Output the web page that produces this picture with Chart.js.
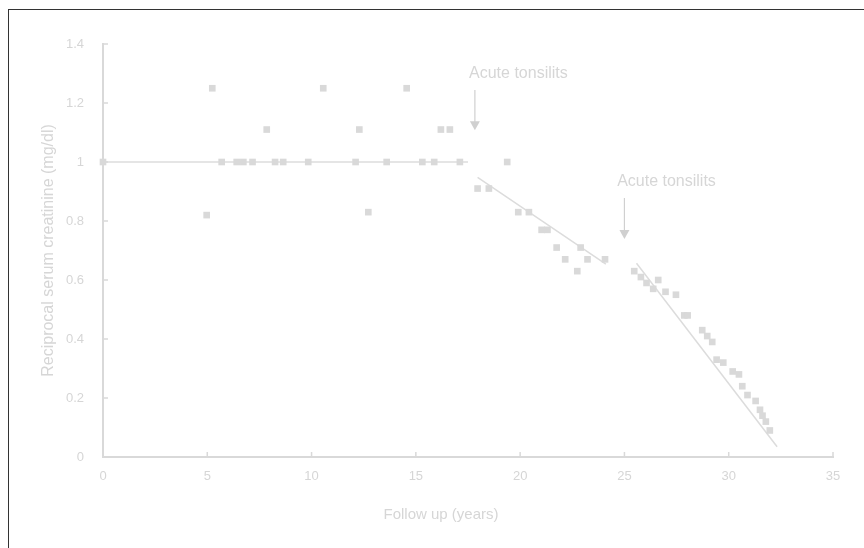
<!DOCTYPE html>
<html>
<head>
<meta charset="utf-8">
<script src="https://cdn.jsdelivr.net/npm/chart.js@4"></script>
<style>
  body { margin: 0; background: #fff; }
  #wrap { position: relative; width: 864px; height: 548px; overflow: hidden; }
  #frame { position: absolute; left: 8px; top: 9px; width: 900px; height: 600px;
           border-top: 1.5px solid #333; border-left: 1.5px solid #333; }
  canvas { position: absolute; left: 0; top: 0; }
</style>
</head>
<body>
<div id="wrap">
  <div id="frame"></div>
  <canvas id="chart" width="864" height="548"></canvas>
</div>
<script>
// follow-up time (years) and reciprocal serum creatinine readings
const years = [
  0, 4.97, 5.24, 5.69, 6.41, 6.73, 7.17, 7.85, 8.25, 8.64, 9.84, 10.56,
  12.11, 12.29, 12.72, 13.6, 14.56, 15.31, 15.88, 16.2, 16.63, 17.11,
  17.96, 18.5, 19.38, 19.91, 20.42, 21.03, 21.31, 21.75, 22.16, 22.74,
  22.9, 23.23, 24.07, 25.47, 25.79, 26.06, 26.38, 26.62, 26.97, 27.47,
  27.87, 28.03, 28.73, 28.97, 29.21, 29.42, 29.74, 30.19, 30.49, 30.65,
  30.9, 31.29, 31.5, 31.62, 31.78, 31.97
];
const recipCreatinine = [
  1.0, 0.82, 1.25, 1.0, 1.0, 1.0, 1.0, 1.11, 1.0, 1.0, 1.0, 1.25,
  1.0, 1.11, 0.83, 1.0, 1.25, 1.0, 1.0, 1.11, 1.11, 1.0,
  0.91, 0.91, 1.0, 0.83, 0.83, 0.77, 0.77, 0.71, 0.67, 0.63,
  0.71, 0.67, 0.67, 0.63, 0.61, 0.59, 0.57, 0.60, 0.56, 0.55,
  0.48, 0.48, 0.43, 0.41, 0.39, 0.33, 0.32, 0.29, 0.28, 0.24,
  0.21, 0.19, 0.16, 0.14, 0.12, 0.09
];

// trend lines: [x0, x1] and [y0, y1]
const trendX = [[0, 17.5], [17.96, 24.11], [25.58, 32.32]];
const trendY = [[1.0, 1.0], [0.948, 0.654], [0.657, 0.035]];

// annotation arrows (data coordinates)
const noteLabels = ["Acute tonsilits", "Acute tonsilits"];
const noteTextX = [17.55, 24.65];
const noteTextY = [1.285, 0.919];
const arrowX = [17.83, 25.0];
const arrowTop = [1.244, 0.878];
const arrowTip = [1.108, 0.739];

const xTicks = [0, 5, 10, 15, 20, 25, 30, 35];
const yTicks = [0, 0.2, 0.4, 0.6, 0.8, 1, 1.2, 1.4];

const GREY = "#d9d9d9";
const TEXT = "#d6d6d6";
const FONT = "'Liberation Sans', Arial, sans-serif";

const points = years.map((x, i) => ({ x: x, y: recipCreatinine[i] }));
const trendSets = trendX.map((xs, i) => ({
  data: xs.map((x, j) => ({ x: x, y: trendY[i][j] })),
  showLine: true,
  borderColor: "#dcdcdc",
  borderWidth: 1.5,
  pointRadius: 0,
  fill: false,
}));

const extras = {
  id: "extras",
  afterDatasetsDraw(chart) {
    const ctx = chart.ctx;
    const x = chart.scales.x;
    const y = chart.scales.y;
    ctx.save();

    // inside tick marks
    ctx.strokeStyle = GREY;
    ctx.lineWidth = 1.5;
    ctx.beginPath();
    xTicks.forEach((v) => {
      const px = x.getPixelForValue(v);
      ctx.moveTo(px, y.bottom);
      ctx.lineTo(px, y.bottom - 5);
    });
    yTicks.forEach((v) => {
      const py = y.getPixelForValue(v);
      ctx.moveTo(x.left, py);
      ctx.lineTo(x.left + 5, py);
    });
    ctx.stroke();

    // arrows + labels
    ctx.font = "16px " + FONT;
    ctx.textBaseline = "alphabetic";
    ctx.textAlign = "left";
    noteLabels.forEach((label, i) => {
      ctx.fillStyle = TEXT;
      ctx.fillText(label, x.getPixelForValue(noteTextX[i]), y.getPixelForValue(noteTextY[i]));
      const ax = x.getPixelForValue(arrowX[i]);
      const top = y.getPixelForValue(arrowTop[i]);
      const tip = y.getPixelForValue(arrowTip[i]);
      ctx.strokeStyle = "#d0d0d0";
      ctx.lineWidth = 1.2;
      ctx.beginPath();
      ctx.moveTo(ax, top);
      ctx.lineTo(ax, tip - 8);
      ctx.stroke();
      ctx.fillStyle = "#d0d0d0";
      ctx.beginPath();
      ctx.moveTo(ax - 5, tip - 9);
      ctx.lineTo(ax + 5, tip - 9);
      ctx.lineTo(ax, tip);
      ctx.closePath();
      ctx.fill();
    });

    // x axis title (sits left of centre in the original)
    ctx.fillStyle = TEXT;
    ctx.font = "15px " + FONT;
    ctx.textAlign = "center";
    ctx.textBaseline = "middle";
    ctx.fillText("Follow up (years)", x.left + (x.right - x.left) * 0.463, 515);
    ctx.restore();
  },
};

new Chart(document.getElementById("chart"), {
  type: "scatter",
  data: {
    datasets: [
      {
        data: points,
        pointStyle: "rect",
        pointRadius: 4.7,
        backgroundColor: GREY,
        borderWidth: 0,
        clip: false,
      },
      ...trendSets,
    ],
  },
  options: {
    responsive: false,
    animation: false,
    layout: { padding: { top: 44, right: 31, left: 0, bottom: 0 } },
    plugins: { legend: { display: false }, tooltip: { enabled: false } },
    scales: {
      x: {
        type: "linear",
        min: 0,
        max: 35,
        afterFit: (s) => { s.height = 91; },
        afterBuildTicks: (s) => { s.ticks = xTicks.map((v) => ({ value: v })); },
        grid: { display: false, drawTicks: false },
        border: { color: GREY, width: 2 },
        ticks: { color: TEXT, padding: 12, font: { family: FONT, size: 13 }, callback: (v) => String(v) },
      },
      y: {
        type: "linear",
        min: 0,
        max: 1.4,
        afterFit: (s) => { s.width = 103; },
        afterBuildTicks: (s) => { s.ticks = yTicks.map((v) => ({ value: v })); },
        grid: { display: false, drawTicks: false },
        border: { color: GREY, width: 2 },
        ticks: { color: TEXT, padding: 19, font: { family: FONT, size: 13 }, callback: (v) => String(v) },
        title: {
          display: true,
          text: "Reciprocal serum creatinine (mg/dl)",
          color: TEXT,
          font: { family: FONT, size: 16 },
          padding: { top: 39, bottom: 0 },
        },
      },
    },
  },
  plugins: [extras],
});
</script>
</body>
</html>
